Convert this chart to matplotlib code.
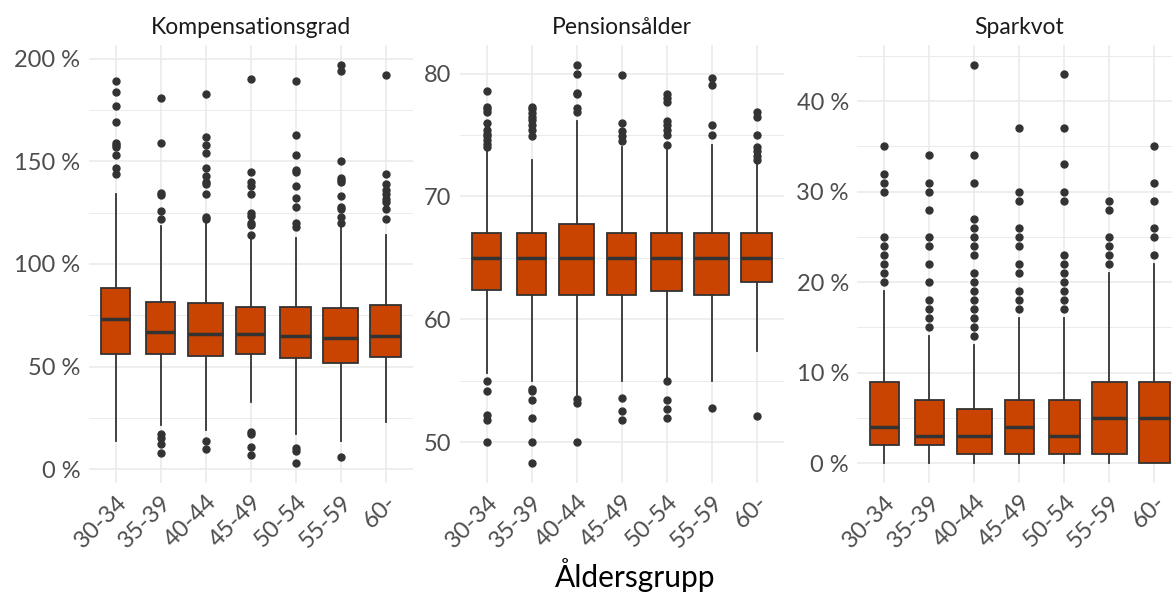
import matplotlib
matplotlib.use("Agg")
import matplotlib.pyplot as plt
from matplotlib.ticker import FixedLocator, FuncFormatter
import numpy as np

plt.rcParams["font.family"] = ["Lato", "DejaVu Sans"]

age_groups = ["30-34", "35-39", "40-44", "45-49", "50-54", "55-59", "60-"]
# relative group sizes (boxes drawn with varwidth)
rel_n = [0.72, 0.70, 1.0, 0.68, 0.81, 1.0, 0.81]

# Kompensationsgrad (%)
komp_q1 = [56, 56, 55, 56, 54, 52, 54.5]
komp_med = [73, 67, 66, 66, 65, 64, 65]
komp_q3 = [88.3, 81.5, 80.8, 79, 79, 78.4, 80]
komp_lo = [14, 21.5, 19, 33, 17, 14, 23]
komp_hi = [134, 118.5, 121.5, 112.5, 112.5, 118, 114]
komp_out = [
    [189, 184, 177, 169, 159, 158, 157, 153, 147, 144],
    [181, 159, 134.5, 133.7, 126, 122, 17.4, 15, 12.5, 8],
    [183, 162, 158, 154, 147, 143, 140, 139, 134, 123, 122, 14, 10],
    [190, 145, 140, 138, 134, 125, 123.6, 120, 119, 114, 18, 17, 11, 7],
    [189, 163, 153, 146, 145, 138, 132, 128, 120, 118, 10.5, 9, 3],
    [197, 194, 150, 142, 141, 140, 133, 128, 127, 123, 120, 6],
    [192, 144, 139, 136, 134, 131.5, 130, 127, 122],
]

# Pensionsålder (år)
pens_q1 = [62.4, 62, 62, 62, 62.3, 62, 63]
pens_med = [65, 65, 65, 65, 65, 65, 65]
pens_q3 = [67, 67, 67.75, 67, 67, 67, 67]
pens_lo = [55.6, 55, 53.8, 55, 55.2, 55, 57.4]
pens_hi = [73.7, 73, 76.1, 74, 73.9, 74.2, 72.8]
pens_out = [
    [78.6, 77.3, 77.1, 76.9, 76.0, 75.4, 75.1, 74.9, 74.6, 74.3, 74.0, 55.0, 54.2, 52.2, 51.8, 50.0],
    [77.3, 77.1, 76.8, 76.5, 76.2, 75.8, 75.4, 74.9, 54.3, 54.2, 53.4, 52.0, 50.0, 48.3],
    [80.7, 80.0, 78.4, 78.3, 77.2, 76.9, 53.5, 53.2, 50.0],
    [79.9, 76.0, 75.3, 74.9, 74.5, 53.6, 52.5, 51.8],
    [78.3, 78.0, 77.7, 76.1, 75.8, 75.4, 75.0, 74.2, 55.0, 53.4, 52.7, 52.0],
    [79.6, 79.1, 75.8, 75.0, 52.8],
    [76.9, 76.5, 75.0, 74.0, 73.7, 73.3, 73.0, 52.1],
]

# Sparkvot (%)
spar_q1 = [2, 2, 1, 1, 1, 1, 0]
spar_med = [4, 3, 3, 4, 3, 5, 5]
spar_q3 = [9, 7, 6, 7, 7, 9, 9]
spar_lo = [0, 0, 0, 0, 0, 0, 0]
spar_hi = [19, 14, 13, 16, 16, 21, 22]
spar_out = [
    [35, 32, 31, 30, 25, 24, 23, 22, 21, 20],
    [34, 31, 30, 28, 25, 24, 22, 20, 18, 17, 16, 15],
    [44, 34, 31, 27, 26, 25, 24, 23, 21, 20, 19, 18, 17, 16, 15, 14],
    [37, 30, 29, 26, 25, 24, 22, 21, 19, 18, 17],
    [43, 37, 33, 30, 29, 23, 22, 21, 20, 19, 18, 17],
    [29, 28, 25, 24, 23, 22],
    [35, 31, 29, 26, 25, 23],
]

panels = [
    ("Kompensationsgrad", komp_q1, komp_med, komp_q3, komp_lo, komp_hi, komp_out, [0, 50, 100, 150, 200], " %"),
    ("Pensionsålder", pens_q1, pens_med, pens_q3, pens_lo, pens_hi, pens_out, [50, 60, 70, 80], ""),
    ("Sparkvot", spar_q1, spar_med, spar_q3, spar_lo, spar_hi, spar_out, [0, 10, 20, 30, 40], " %"),
]

FILL = "#C84400"
EDGE = "#333333"
GRID = "#EBEBEB"

W, H = 1172, 593
fig = plt.figure(figsize=(W / 100, H / 100), dpi=100)

# panel extents in pixels (left edges); the last panel runs past the right edge as in the original
lefts = [88.7, 459.7, 857.3]
pw = 324.0
top_px, bot_px = 45.0, 483.0

pos = np.arange(1, len(age_groups) + 1)
widths = 0.77 * np.sqrt(np.array(rel_n))

for (title, q1, med, q3, lo, hi, out, yticks, suffix), left in zip(panels, lefts):
    ax = fig.add_axes([left / W, (H - bot_px) / H, pw / W, (bot_px - top_px) / H])
    stats = []
    for i in range(len(age_groups)):
        stats.append(dict(q1=q1[i], med=med[i], q3=q3[i], whislo=lo[i], whishi=hi[i], fliers=out[i]))
    ax.bxp(stats, positions=pos, widths=widths, patch_artist=True, showcaps=False,
           boxprops=dict(facecolor=FILL, edgecolor=EDGE, linewidth=1.3),
           medianprops=dict(color=EDGE, linewidth=2.5),
           whiskerprops=dict(color=EDGE, linewidth=1.3),
           flierprops=dict(marker="o", markersize=5, markerfacecolor=EDGE, markeredgecolor=EDGE),
           zorder=3)

    allv = np.concatenate([lo, hi] + [np.array(o, dtype=float) for o in out])
    vmin, vmax = allv.min(), allv.max()
    pad = 0.05 * (vmax - vmin)
    ax.set_ylim(vmin - pad, vmax + pad)
    ax.set_xlim(0.4, len(age_groups) + 0.6)

    step = yticks[1] - yticks[0]
    minor = [t + step / 2 for t in [yticks[0] - step] + yticks]
    ax.yaxis.set_major_locator(FixedLocator(yticks))
    ax.yaxis.set_minor_locator(FixedLocator(minor))
    ax.yaxis.set_major_formatter(FuncFormatter(lambda v, p, s=suffix: f"{v:.0f}{s}"))
    ax.set_xticks(pos)
    ax.set_xticklabels(age_groups, rotation=45, ha="right", rotation_mode="anchor")

    ax.grid(which="major", color=GRID, linewidth=1.2, zorder=0)
    ax.grid(which="minor", axis="y", color=GRID, linewidth=0.7, zorder=0)
    ax.set_axisbelow(True)
    for s in ax.spines.values():
        s.set_visible(False)
    ax.tick_params(which="both", length=0)
    ax.tick_params(axis="y", labelsize=17, labelcolor="#4D4D4D", pad=6)
    ax.tick_params(axis="x", labelsize=17, labelcolor="#4D4D4D", pad=6)
    ax.set_title(title, fontsize=16.5, color="#1A1A1A", pad=8)

fig.text((lefts[0] + lefts[2] + pw) / 2 / W, (H - 587) / H, "Åldersgrupp",
         ha="center", va="baseline", fontsize=21.5, color="black")

fig.savefig("out.png", dpi=100)
